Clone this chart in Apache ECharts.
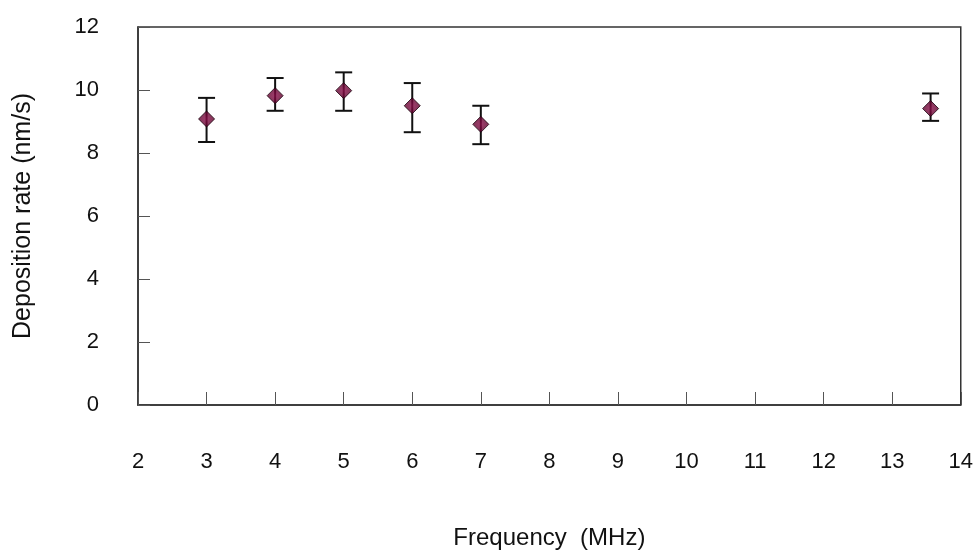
<!DOCTYPE html>
<html>
<head>
<meta charset="utf-8">
<script src="https://cdn.jsdelivr.net/npm/echarts@6/dist/echarts.min.js"></script>
<style>
html,body{margin:0;padding:0;background:#fff;}
#chart{width:976px;height:555px;}
</style>
</head>
<body>
<div id="chart"></div>
<script>
// Data
var frequency = [3, 4, 5, 6, 7, 13.56];
var rate      = [9.08, 9.82, 9.98, 9.50, 8.91, 9.41];
var rateLow   = [8.35, 9.34, 9.34, 8.66, 8.28, 9.02];
var rateHigh  = [9.75, 10.38, 10.56, 10.22, 9.50, 9.89];
var xTicks = [2, 14, 1];   // min, max, interval
var yTicks = [0, 12, 2];

var scatterData = frequency.map(function (f, i) { return [f, rate[i]]; });
var errData = frequency.map(function (f, i) { return [f, rateLow[i], rateHigh[i]]; });

var FONT = 'Liberation Sans, Arial, sans-serif';
var chart = echarts.init(document.getElementById('chart'), null, {renderer: 'canvas'});
chart.setOption({
  backgroundColor: '#ffffff',
  animation: false,
  grid: {left: 138, right: 14, top: 27, bottom: 148, show: true, borderColor: '#333', borderWidth: 1.5},
  xAxis: {
    type: 'value', min: xTicks[0], max: xTicks[1], interval: xTicks[2],
    name: 'Frequency  (MHz)', nameLocation: 'middle', nameGap: 121,
    nameTextStyle: {fontFamily: FONT, fontSize: 24, color: '#111'},
    axisLine: {show: true, lineStyle: {color: '#333', width: 1.5}},
    axisTick: {show: true, inside: true, length: 13, lineStyle: {color: '#555', width: 1}},
    axisLabel: {fontFamily: FONT, fontSize: 22, color: '#111', margin: 46},
    splitLine: {show: false}
  },
  yAxis: {
    type: 'value', min: yTicks[0], max: yTicks[1], interval: yTicks[2],
    name: 'Deposition rate (nm/s)', nameLocation: 'middle', nameGap: 102,
    nameTextStyle: {fontFamily: FONT, fontSize: 25, color: '#111'},
    axisLine: {show: true, lineStyle: {color: '#333', width: 1.5}},
    axisTick: {show: true, inside: true, length: 12, lineStyle: {color: '#555', width: 1}},
    axisLabel: {fontFamily: FONT, fontSize: 22, color: '#111', margin: 39},
    splitLine: {show: false}
  },
  series: [
    {
      type: 'custom',
      data: errData,
      z: 2,
      renderItem: function (params, api) {
        var x = api.value(0);
        var lo = api.coord([x, api.value(1)]);
        var hi = api.coord([x, api.value(2)]);
        var hw = 8.5;
        var style = {stroke: '#111', lineWidth: 2};
        return {
          type: 'group',
          children: [
            {type: 'line', shape: {x1: lo[0], y1: lo[1], x2: hi[0], y2: hi[1]}, style: style},
            {type: 'line', shape: {x1: lo[0] - hw, y1: lo[1], x2: lo[0] + hw, y2: lo[1]}, style: style},
            {type: 'line', shape: {x1: hi[0] - hw, y1: hi[1], x2: hi[0] + hw, y2: hi[1]}, style: style}
          ]
        };
      }
    },
    {
      type: 'scatter',
      data: scatterData,
      z: 3,
      symbol: 'diamond',
      symbolSize: [16, 16],
      itemStyle: {
        color: {type: 'radial', x: 0.5, y: 0.5, r: 0.6,
          colorStops: [{offset: 0, color: '#8a0c48'}, {offset: 1, color: '#520024'}]},
        borderColor: '#1a000c', borderWidth: 1
      }
    }
  ]
});
</script>
</body>
</html>
